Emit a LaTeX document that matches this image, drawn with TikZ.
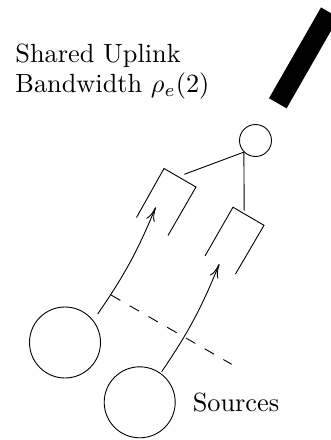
\documentclass[tikz,border=0pt]{standalone}
\usepackage{graphicx}
\usetikzlibrary{arrows.meta}
\begin{document}
\begin{tikzpicture}[x=1pt,y=-1pt,line width=0.9pt,
  srcnode/.style={circle,draw,minimum size=71pt,inner sep=0pt},
  hubnode/.style={circle,draw,minimum size=32pt,inner sep=0pt},
  queueline/.style={line join=miter},
  flow/.style={-{To[length=14pt,width=9pt]}},
  lbl/.style={inner sep=0pt,font=\fontsize{10}{11.4}\selectfont}]
\useasboundingbox (0,0) rectangle (331,440);
\clip (0,0) rectangle (331,440);
% label
\node[lbl,anchor=north west] (title) at (15,41) {\scalebox{2.63}{\begin{tabular}[t]{@{}l@{}}Shared Uplink\\Bandwidth $\rho_e(2)$\end{tabular}}};
\node[lbl,anchor=base west] (srclbl) at (192.3,411.7) {\scalebox{2.63}{Sources}};
% uplink bar
\coordinate (barlo) at (277.8,103.3);
\coordinate (barhi) at (329.8,12.5);
\draw[line width=20.3pt] (barlo) -- (barhi);
% hub
\node[hubnode] (hub) at (255.5,140.5) {};
% queues
\coordinate (q1l) at (136.5,217.5);
\coordinate (q1t) at (164,168.5);
\coordinate (q1r) at (196,187);
\coordinate (q1b) at (168,235.5);
\coordinate (q2l) at (205,256);
\coordinate (q2t) at (233,207.2);
\coordinate (q2r) at (264,225.3);
\coordinate (q2b) at (235.5,274);
\draw[queueline] (q1l) -- (q1t) -- (q1r) -- (q1b);
\draw[queueline] (q2l) -- (q2t) -- (q2r) -- (q2b);
% links from hub
\coordinate (c1) at (184.3,174.3);
\coordinate (c2) at (244.2,210.5);
\draw (hub.225) -- (c1);
\draw (hub.225) -- (c2);
% sources
\node[srcnode] (s1) at (65,342.5) {};
\node[srcnode] (s2) at (139.7,402.3) {};
\coordinate (a1s) at (97.7,314);
\coordinate (a1e) at (155.7,207.3);
\coordinate (a2s) at (161.7,371.7);
\coordinate (a2e) at (219.3,264);
\draw[flow] (a1s) to[bend right=6] (a1e);
\draw[flow] (a2s) to[bend right=6] (a2e);
% divider
\coordinate (d1) at (111,295);
\coordinate (d2) at (231.7,364.3);
\draw[dash pattern=on 10.8pt off 10.8pt] (d1) -- (d2);
\end{tikzpicture}
\end{document}
